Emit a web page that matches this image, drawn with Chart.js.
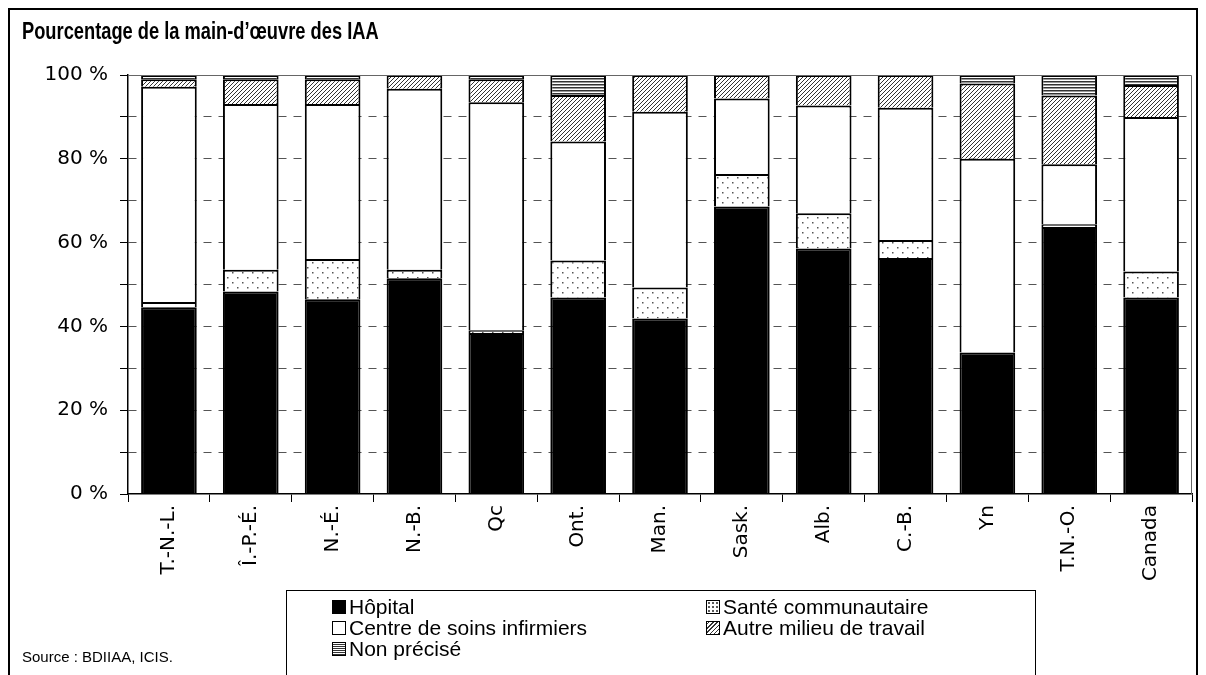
<!DOCTYPE html>
<html lang="fr">
<head>
<meta charset="utf-8">
<script src="https://cdn.jsdelivr.net/npm/chart.js@4/dist/chart.umd.min.js"></script>
<style>
  html, body { margin: 0; padding: 0; background: #fff; }
  #wrap { position: relative; width: 1206px; height: 675px; overflow: hidden; }
  #frame { position: absolute; left: 8px; top: 8px; width: 1190px; height: 680px; border: 2px solid #000; box-sizing: border-box; pointer-events: none; }
  #title { position: absolute; left: 22px; top: 18px; font: bold 23px "Liberation Sans", Arial, sans-serif; white-space: nowrap; transform: scaleX(0.795); transform-origin: 0 0; }
  #legend { position: absolute; left: 286px; top: 590px; width: 750px; height: 100px; border: 1.5px solid #000; background: #fff; box-sizing: border-box; font: 21px "Liberation Sans", Arial, sans-serif; }
  .item { position: absolute; display: flex; align-items: center; white-space: nowrap; height: 21px; }
  .sw { width: 12px; height: 12px; border: 1px solid #000; margin-right: 3px; box-sizing: content-box; }
  #source { position: absolute; left: 22px; top: 648px; font: 15px "Liberation Sans", Arial, sans-serif; }
</style>
</head>
<body>
<div id="wrap">
  <canvas id="chart" width="1206" height="675"></canvas>
  <div id="frame"></div>
  <div id="title">Pourcentage de la main-d’œuvre des IAA</div>
  <div id="legend"></div>
  <div id="source">Source : BDIIAA, ICIS.</div>
</div>
<script>
const categories = ['T.-N.-L.', 'Î.-P.-É.', 'N.-É.', 'N.-B.', 'Qc', 'Ont.', 'Man.', 'Sask.', 'Alb.', 'C.-B.', 'Yn', 'T.N.-O.', 'Canada'];
const hopital   = [44.6, 48.3, 46.5, 51.5, 38.4, 46.9, 41.9, 68.6, 58.6, 56.3, 33.8, 63.7, 46.9];
const sante     = [1.2, 5.2, 9.6, 2.0, 0.7, 8.8, 7.4, 7.8, 8.4, 4.3, 0, 0.7, 6.2];
const centre    = [51.4, 39.6, 37.0, 43.2, 54.4, 28.4, 41.9, 18.0, 25.7, 31.6, 46.2, 14.3, 36.9];
const autre     = [1.8, 5.9, 5.9, 3.3, 5.5, 11.1, 8.8, 5.6, 7.3, 7.8, 18.0, 16.4, 7.6];
const nonPrecise = [1.0, 1.0, 1.0, 0, 1.0, 4.8, 0, 0, 0, 0, 2.0, 4.9, 2.4];
const yTicks = [0, 20, 40, 60, 80, 100];

// motifs de remplissage (style Excel noir et blanc)
function makePattern(w, h, draw) {
  const c = document.createElement('canvas');
  c.width = w; c.height = h;
  const g = c.getContext('2d');
  g.fillStyle = '#fff';
  g.fillRect(0, 0, w, h);
  draw(g);
  return c;
}
const ctxMain = document.getElementById('chart').getContext('2d');
const dotsTile = makePattern(10, 10, g => {
  g.fillStyle = '#555';
  g.fillRect(2, 2, 1.5, 1.5);
  g.fillRect(7, 7, 1.5, 1.5);
});
const hatchTile = makePattern(4, 4, g => {
  g.strokeStyle = '#333';
  g.lineWidth = 1;
  g.beginPath();
  g.moveTo(-1, 5); g.lineTo(5, -1);
  g.moveTo(-1, 1); g.lineTo(1, -1);
  g.moveTo(3, 5); g.lineTo(5, 3);
  g.stroke();
});
const stripeTile = makePattern(4, 3, g => {
  g.fillStyle = '#333';
  g.fillRect(0, 0, 4, 1.5);
});

const series = [
  { label: 'Hôpital', data: hopital, fill: '#000', css: '#000' },
  { label: 'Santé communautaire', data: sante, fill: ctxMain.createPattern(dotsTile, 'repeat'), css: 'radial-gradient(#555 0.7px, #fff 1px) 0 0/4px 4px, #fff' },
  { label: 'Centre de soins infirmiers', data: centre, fill: '#fff', css: '#fff' },
  { label: 'Autre milieu de travail', data: autre, fill: ctxMain.createPattern(hatchTile, 'repeat'), css: 'repeating-linear-gradient(-45deg, #333 0 1px, #fff 1px 3px)' },
  { label: 'Non précisé', data: nonPrecise, fill: ctxMain.createPattern(stripeTile, 'repeat'), css: 'repeating-linear-gradient(0deg, #333 0 1px, #fff 1px 2px)' }
];

const plotFrame = {
  id: 'plotFrame',
  afterDraw(chart) {
    const { ctx, chartArea: a } = chart;
    ctx.save();
    ctx.strokeStyle = '#666';
    ctx.lineWidth = 1;
    ctx.beginPath();
    ctx.moveTo(a.left, a.top + 0.5);
    ctx.lineTo(a.right - 0.5, a.top + 0.5);
    ctx.lineTo(a.right - 0.5, a.bottom);
    ctx.stroke();
    ctx.restore();
  }
};

new Chart(ctxMain, {
  type: 'bar',
  data: {
    labels: categories,
    datasets: series.map(s => ({
      label: s.label,
      data: s.data,
      backgroundColor: s.fill,
      borderColor: '#000',
      borderWidth: 2,
      borderSkipped: 'start',
      barPercentage: 1,
      categoryPercentage: 0.68
    }))
  },
  options: {
    responsive: false,
    animation: false,
    layout: { padding: { left: 22, right: 14, top: 75, bottom: 0 } },
    plugins: {
      legend: { display: false },
      tooltip: { enabled: false }
    },
    scales: {
      x: {
        stacked: true,
        grid: { drawOnChartArea: false, offset: true, color: '#000', tickLength: 8 },
        border: { color: '#000', width: 1.5 },
        ticks: {
          color: '#000',
          font: { family: '"DejaVu Sans", sans-serif', size: 20 },
          minRotation: 90, maxRotation: 90, autoSkip: false, padding: 3
        },
        afterFit(scale) { scale.height = 181; }
      },
      y: {
        stacked: true,
        min: 0, max: 100,
        grid: {
          color: c => (c.tick && (c.tick.value === 0 || c.tick.value === 100)) ? 'rgba(0,0,0,0)' : '#555',
          tickColor: '#000',
          tickLength: 8
        },
        border: { color: '#000', width: 1.5, dash: [8, 7] },
        ticks: {
          stepSize: 10,
          color: '#000',
          padding: 12,
          font: { family: '"DejaVu Sans", sans-serif', size: 20 },
          callback: v => yTicks.includes(v) ? v + ' %' : ''
        },
        afterFit(scale) { scale.width = 106; }
      }
    }
  },
  plugins: [plotFrame]
});

// légende en HTML, deux colonnes
const legend = document.getElementById('legend');
const pos = [[45, 5], [419, 5], [45, 26], [419, 26], [45, 47]];
series.forEach((s, k) => {
  const el = document.createElement('div');
  el.className = 'item';
  el.style.left = pos[k][0] + 'px';
  el.style.top = pos[k][1] + 'px';
  el.innerHTML = '<span class="sw" style="background:' + s.css + '"></span>' + s.label;
  legend.appendChild(el);
});
</script>
</body>
</html>
